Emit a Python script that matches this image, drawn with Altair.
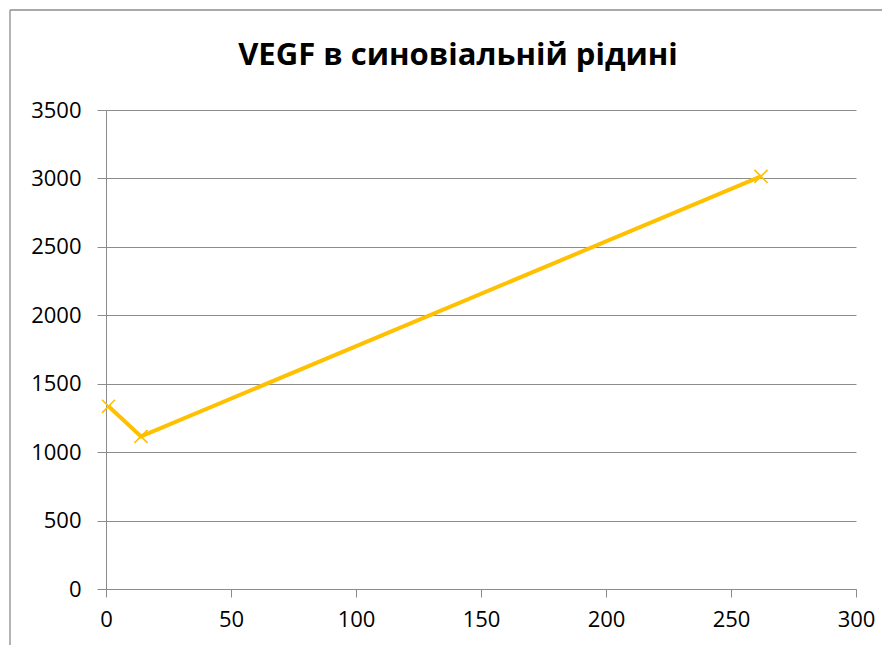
import altair as alt
import pandas as pd

title_text = "VEGF в синовіальній рідині"
x_vals = [1, 14, 262]
y_vals = [1335, 1115, 3015]
x_ticks = [0, 50, 100, 150, 200, 250, 300]
y_ticks = [0, 500, 1000, 1500, 2000, 2500, 3000, 3500]

df = pd.DataFrame({"x": x_vals, "y": y_vals})

GOLD = "#FFC000"
GRID = "#8c8c8c"
FONT = "Open Sans"

xs = alt.X("x:Q", scale=alt.Scale(domain=[0, 300], nice=False, zero=False),
           axis=alt.Axis(values=x_ticks, format="d", title=None, grid=False, labelFontSize=22,
                         labelFont=FONT, labelColor="black", tickColor=GRID, tickSize=8,
                         domainColor=GRID, labelPadding=12, labelFlush=False))
ys = alt.Y("y:Q", scale=alt.Scale(domain=[0, 3500], nice=False),
           axis=alt.Axis(values=y_ticks, format="d", title=None, grid=True, gridColor=GRID,
                         labelFontSize=22, labelFont=FONT, labelColor="black",
                         tickColor=GRID, tickSize=9, domainColor=GRID, labelPadding=16,
                         labelFlush=False))

base = alt.Chart(df)
line = base.mark_line(color=GOLD, strokeWidth=4).encode(x=xs, y=ys)
pts = base.mark_point(shape="M-1,-1L1,1M-1,1L1,-1", size=170, color=GOLD,
                      strokeWidth=1.6, filled=False, opacity=1).encode(x="x:Q", y="y:Q")

one = alt.Data(values=[{"t": title_text}])
left_edge = alt.Chart(one).mark_rule(color="#8c8c8c", strokeWidth=1.3).encode(
    x=alt.value(-96), y=alt.value(-100), y2=alt.value(600))
top_edge = alt.Chart(one).mark_rule(color="#8c8c8c", strokeWidth=1.3).encode(
    x=alt.value(-96), x2=alt.value(900), y=alt.value(-100))
title = alt.Chart(one).mark_text(font=FONT, fontSize=31, fontWeight="bold", color="black",
                                 align="center", baseline="alphabetic").encode(
    text="t:N", x=alt.value(352), y=alt.value(-45))

chart = alt.layer(left_edge, top_edge, title, line, pts).properties(
    width=750, height=479,
    padding={"left": 98, "top": 102, "right": 26, "bottom": 56},
    autosize=alt.AutoSizeParams(type="none"),
).configure_view(stroke=None)

chart.save("out.html", embed_options={"renderer": "svg", "actions": False})
